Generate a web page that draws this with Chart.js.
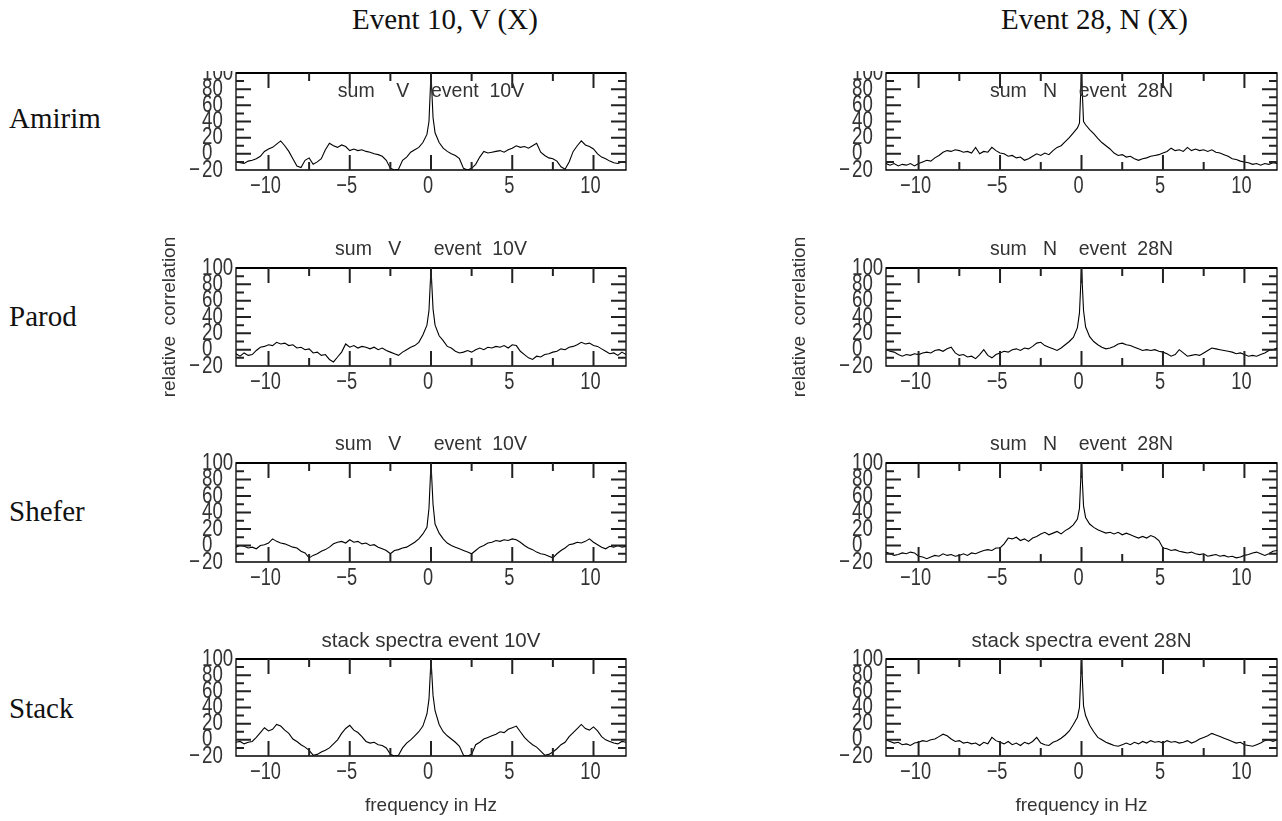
<!DOCTYPE html>
<html>
<head>
<meta charset="utf-8">
<script src="https://cdn.jsdelivr.net/npm/chart.js@4.4.1/dist/chart.umd.min.js"></script>
<style>
  body { margin: 0; background: #fff; width: 1282px; height: 821px; position: relative; overflow: hidden; }
  .lbl { position: absolute; font-family: "Liberation Serif", "Times New Roman", serif; font-size: 29px; line-height: 29px; color: #111; white-space: nowrap; }
  canvas { position: absolute; }
</style>
</head>
<body>
<div class="lbl" style="left:352px;top:5px">Event 10, V (X)</div>
<div class="lbl" style="left:1001px;top:5px">Event 28, N (X)</div>
<div class="lbl" style="left:9px;top:104px">Amirim</div>
<div class="lbl" style="left:9px;top:302px">Parod</div>
<div class="lbl" style="left:9px;top:497px">Shefer</div>
<div class="lbl" style="left:9px;top:694px">Stack</div>

<script>
// frequency axis (Hz), shared by all panels
const freq = [
  -12, -11.75, -11.5, -11.25, -11, -10.75, -10.5, -10.25,
  -10, -9.75, -9.5, -9.25, -9, -8.75, -8.5, -8.25,
  -8, -7.75, -7.5, -7.25, -7, -6.75, -6.5, -6.25,
  -6, -5.75, -5.5, -5.25, -5, -4.75, -4.5, -4.25,
  -4, -3.75, -3.5, -3.25, -3, -2.75, -2.5, -2.25,
  -2, -1.75, -1.5, -1.25, -1, -0.75, -0.5, -0.25,
  -0.125, 0, 0.125,
  0.25, 0.5, 0.75, 1, 1.25, 1.5, 1.75, 2,
  2.25, 2.5, 2.75, 3, 3.25, 3.5, 3.75, 4,
  4.25, 4.5, 4.75, 5, 5.25, 5.5, 5.75, 6,
  6.25, 6.5, 6.75, 7, 7.25, 7.5, 7.75, 8,
  8.25, 8.5, 8.75, 9, 9.25, 9.5, 9.75, 10,
  10.25, 10.5, 10.75, 11, 11.25, 11.5, 11.75, 12
];

// relative correlation, event 10 V
const amirimV = [
  -10, -11, -12, -9, -8, -6, -3, 3,
  6, 8, 12, 16, 10, 3, -6, -15,
  -17, -8, -5, -13, -10, -6, 5, 13,
  10, 8, 11, 9, 4, 6, 4, 5,
  3, 2, 0, -1, -3, -8, -18, -20,
  -19, -8, -4, 2, 5, 8, 14, 24,
  40, 100, 45,
  26, 14, 7, 3, 0, -2, -6, -18,
  -20, -18, -13, -4, 3, 1, 2, 3,
  4, 2, 5, 7, 10, 8, 9, 7,
  10, 13, 2, -2, -5, -6, -9, -16,
  -19, -10, 3, 10, 16, 11, 9, 6,
  0, -4, -6, -9, -11, -12, -10, -11
];
const parodV = [
  -5, -8, -4, -7, -6, -1, 3, 4,
  6, 5, 9, 7, 8, 5, 6, 2,
  3, 0, 1, -4, -3, -7, -6, -12,
  -15, -9, -3, 7, 3, 5, 2, 4,
  3, 1, 3, 0, 2, -1, -3, -5,
  -7, -3, 0, 3, 5, 9, 18, 30,
  48, 100, 50,
  30, 17, 11, 4, 2, -2, -4, -3,
  -1, -3, 0, 2, 0, 3, 2, 4,
  3, 5, 2, 6, 5, -2, -6, -10,
  -12, -8, -9, -6, -5, -3, -2, 1,
  0, 3, 4, 6, 9, 7, 8, 5,
  4, 1, -2, -5, -4, -7, -3, -6
];
const sheferV = [
  -2, 0, -1, -3, -2, -4, 0, 1,
  3, 8, 5, 3, 2, 0, -2, -3,
  -7, -9, -15, -12, -10, -7, -5, -2,
  2, 4, 5, 3, 7, 4, 5, 2,
  3, 0, 1, -2, -4, -6, -10, -6,
  -5, -3, -2, 1, 4, 8, 14, 22,
  45, 100, 50,
  26, 15, 8, 3, 0, -2, -4, -6,
  -8, -10, -6, -2, 0, 3, 4, 6,
  5, 7, 6, 8, 7, 4, 0, -3,
  -5, -8, -10, -11, -13, -15, -10, -6,
  -3, 1, 2, 4, 3, 5, 8, 4,
  1, -2, -4, -1, -2, 0, -2, -1
];
const stackV = [
  -3, -2, -5, -3, -2, 3, 9, 15,
  11, 13, 19, 17, 12, 8, 1, -2,
  -6, -9, -13, -19, -18, -15, -13, -10,
  -5, 0, 8, 14, 18, 12, 9, 4,
  -2, -4, -3, -6, -7, -10, -18, -20,
  -19, -10, -4, 0, 5, 10, 17, 32,
  50, 100, 55,
  36, 19, 10, 5, 1, -3, -8, -19,
  -20, -18, -6, -3, 1, 3, 5, 7,
  10, 9, 13, 15, 17, 10, 3, -2,
  -6, -9, -14, -19, -18, -15, -11, -6,
  -3, 4, 9, 14, 19, 14, 12, 16,
  11, 4, 0, -2, -4, -5, -2, -3
];

// relative correlation, event 28 N
const amirimN = [
  -12, -14, -12, -15, -13, -14, -12, -15,
  -12, -10, -8, -9, -5, -2, 2, 4,
  3, 5, 4, 2, 3, 1, 8, 0,
  3, 2, 8, 4, 1, 0, -3, -2,
  -5, -4, -8, -6, -3, 0, -2, 1,
  -1, 4, 8, 10, 15, 20, 26, 32,
  38, 100, 40,
  36, 30, 25, 19, 14, 10, 6, 1,
  -2, -1, -4, -3, -6, -8, -6, -5,
  -3, -2, -1, 1, 3, 7, 4, 5,
  3, 8, 4, 6, 4, 5, 3, 5,
  2, 1, -1, -3, -6, -7, -9, -10,
  -11, -13, -12, -14, -12, -13, -11, -12
];
const parodN = [
  0, -2, -3, -6, -8, -6, -7, -5,
  -6, -4, -3, -4, -1, 0, -2, 1,
  3, -4, -7, -6, -9, -8, -11, -6,
  0, -7, -10, -6, -4, -2, -3, 0,
  1, -1, 2, 1, 4, 8, 9, 5,
  3, 1, -1, 2, 6, 10, 15, 27,
  45, 100, 48,
  28, 16, 10, 6, 3, 1, 2, 4,
  7, 8, 6, 5, 3, 1, -1, 0,
  -1, 0, -2, -3, -5, -8, -6, 0,
  -4, -8, -7, -6, -7, -4, -1, 2,
  1, 0, -1, -2, -3, -5, -4, -6,
  -8, -7, -8, -6, -4, -1, 0, 2
];
const sheferN = [
  -8, -10, -12, -11, -9, -10, -8, -9,
  -13, -14, -16, -14, -12, -13, -10, -12,
  -11, -13, -12, -10, -12, -9, -10, -8,
  -6, -5, -6, -3, -3, 2, 9, 8,
  10, 6, 8, 5, 9, 11, 14, 16,
  13, 15, 17, 14, 18, 21, 25, 32,
  45, 100, 48,
  34, 26, 22, 19, 17, 15, 16, 14,
  16, 13, 15, 13, 11, 9, 11, 9,
  12, 10, 6, -3, -4, -6, -5, -7,
  -8, -9, -8, -10, -11, -10, -13, -12,
  -11, -13, -12, -14, -13, -15, -14, -12,
  -11, -9, -8, -10, -12, -10, -7, -6
];
const stackN = [
  0, -2, -4, -3, -6, -5, -7, -4,
  -3, -1, -2, 0, 1, 4, 7, 5,
  1, -2, -1, -4, -3, -5, -4, -7,
  -3, -5, 3, -1, -3, -5, -2, -6,
  -4, -7, -3, -5, -2, 3, -4, -6,
  -7, -3, -1, 2, 6, 11, 19, 28,
  40, 100, 42,
  30, 18, 10, 3, 0, -3, -5, -7,
  -8, -6, -4, -6, -3, -5, -2, -4,
  -1, -3, -2, -4, -1, -3, -2, -4,
  -3, -1, -4, -2, 1, 3, 5, 8,
  6, 4, 2, 0, -2, -4, -3, -6,
  -7, -8, -6, -4, -1, 0, -2, 0
];

// tick positions: x every 2.5 Hz (labels every 5), y every 10 (labels every 20)
const xTicks = [-10, -7.5, -5, -2.5, 0, 2.5, 5, 7.5, 10];
const yTicks = [-20, -10, 0, 10, 20, 30, 40, 50, 60, 70, 80, 90, 100];

// plot rectangles on the page
const rowTop = [73, 268, 463, 659];
const rowBottom = [170, 366, 562, 756];
const colLeft = [236, 886];
const colRight = [626, 1277];

const panels = [
  { values: amirimV, row: 0, col: 0, title: 'sum    V    event  10V' },
  { values: amirimN, row: 0, col: 1, title: 'sum   N    event  28N' },
  { values: parodV, row: 1, col: 0, title: 'sum   V      event  10V', yTitle: true },
  { values: parodN, row: 1, col: 1, title: 'sum   N    event  28N', yTitle: true },
  { values: sheferV, row: 2, col: 0, title: 'sum   V      event  10V' },
  { values: sheferN, row: 2, col: 1, title: 'sum   N    event  28N' },
  { values: stackV, row: 3, col: 0, title: 'stack spectra event 10V', xTitle: true },
  { values: stackN, row: 3, col: 1, title: 'stack spectra event 28N', xTitle: true }
];

function squeezeText(ctx, txt, x, y, sx, align) {
  ctx.save();
  ctx.translate(x, y);
  ctx.scale(sx, 1);
  ctx.textAlign = align;
  ctx.fillText(txt, 0, 0);
  ctx.restore();
}

// frame, inward ticks, tick labels and titles in the old plotting style
const framePlugin = {
  id: 'frame',
  afterDraw(chart, args, opts) {
    const ctx = chart.ctx;
    const a = chart.chartArea;
    const xs = chart.scales.x, ys = chart.scales.y;
    ctx.save();
    ctx.setTransform(1, 0, 0, 1, 0, 0);
    const r = chart.currentDevicePixelRatio || 1;
    ctx.scale(r, r);

    ctx.strokeStyle = '#000';
    ctx.lineWidth = 1.3;
    ctx.beginPath();
    ctx.rect(a.left, a.top, a.right - a.left, a.bottom - a.top);
    ctx.stroke();
    ctx.lineWidth = 2.2;
    ctx.beginPath();
    ctx.moveTo(a.left, a.top);
    ctx.lineTo(a.right, a.top);
    ctx.stroke();

    // inward ticks on all four sides
    ctx.strokeStyle = '#222';
    ctx.lineWidth = 2;
    ctx.beginPath();
    for (let i = 0; i < xTicks.length; i++) {
      const v = xTicks[i];
      const px = xs.getPixelForValue(v);
      const len = (v % 5 === 0) ? 15 : 8;
      ctx.moveTo(px, a.top);
      ctx.lineTo(px, a.top + len);
      ctx.moveTo(px, a.bottom);
      ctx.lineTo(px, a.bottom - len);
    }
    for (let i = 1; i < yTicks.length - 1; i++) {
      const v = yTicks[i];
      const py = ys.getPixelForValue(v);
      const len = (v % 20 === 0) ? 15 : 8;
      ctx.moveTo(a.left, py);
      ctx.lineTo(a.left + len, py);
      ctx.moveTo(a.right, py);
      ctx.lineTo(a.right - len, py);
    }
    ctx.stroke();

    ctx.fillStyle = '#333';
    ctx.textBaseline = 'middle';
    ctx.font = '24px "Liberation Sans", Arial, sans-serif';
    for (let i = 0; i < xTicks.length; i++) {
      const v = xTicks[i];
      if (v % 5 !== 0) continue;
      const px = xs.getPixelForValue(v);
      squeezeText(ctx, (v < 0 ? '\u2212' : '') + Math.abs(v), px - 3, a.bottom + 16, 0.76, 'center');
    }
    for (let i = 0; i < yTicks.length; i++) {
      const v = yTicks[i];
      if (v % 20 !== 0) continue;
      const py = ys.getPixelForValue(v);
      squeezeText(ctx, String(Math.abs(v)), a.left - 34, py, 0.78, 'left');
      if (v < 0) squeezeText(ctx, '\u2212', a.left - 36, py, 0.78, 'right');
    }

    const cx = (a.left + a.right) / 2;
    ctx.font = opts.titleFont;
    ctx.textAlign = 'center';
    ctx.fillText(opts.title, cx, a.top + opts.titleDy);

    ctx.font = '19px "Liberation Sans", Arial, sans-serif';
    if (opts.xTitle) {
      ctx.fillText('frequency in Hz', cx, a.bottom + 50);
    }
    if (opts.yTitle) {
      ctx.save();
      ctx.translate(a.left + opts.yTitleDx, (a.top + a.bottom) / 2);
      ctx.rotate(-Math.PI / 2);
      ctx.textBaseline = 'alphabetic';
      ctx.fillText('relative  correlation', 0, 0);
      ctx.restore();
    }
    ctx.restore();
  }
};

panels.forEach(p => {
  const L = colLeft[p.col], R = colRight[p.col];
  const T = rowTop[p.row], B = rowBottom[p.row];
  const padTop = p.row === 0 ? 2 : 40;
  const padLeft = 110, padRight = 5, padBottom = 60;
  const canvas = document.createElement('canvas');
  canvas.width = (R - L) + padLeft + padRight;
  canvas.height = (B - T) + padTop + padBottom;
  canvas.style.left = (L - padLeft) + 'px';
  canvas.style.top = (T - padTop) + 'px';
  document.body.appendChild(canvas);

  new Chart(canvas.getContext('2d'), {
    type: 'line',
    data: {
      datasets: [{
        data: freq.map((f, i) => ({ x: f, y: p.values[i] })),
        borderColor: '#000',
        borderWidth: 1.1,
        pointRadius: 0,
        tension: 0
      }]
    },
    options: {
      responsive: false,
      animation: false,
      layout: { padding: { left: padLeft, right: padRight, top: padTop, bottom: padBottom } },
      scales: {
        x: { type: 'linear', min: -12, max: 12, display: false },
        y: { type: 'linear', min: -20, max: 100, display: false }
      },
      plugins: {
        legend: { display: false },
        tooltip: { enabled: false },
        frame: {
          title: p.title,
          titleDy: p.row === 0 ? 19 : -18,
          titleFont: (p.xTitle ? '20.5px' : '19.5px') + ' "Liberation Sans", Arial, sans-serif',
          xTitle: !!p.xTitle,
          yTitle: !!p.yTitle,
          yTitleDx: p.col === 0 ? -61 : -81
        }
      }
    },
    plugins: [framePlugin]
  });
});
</script>
</body>
</html>
